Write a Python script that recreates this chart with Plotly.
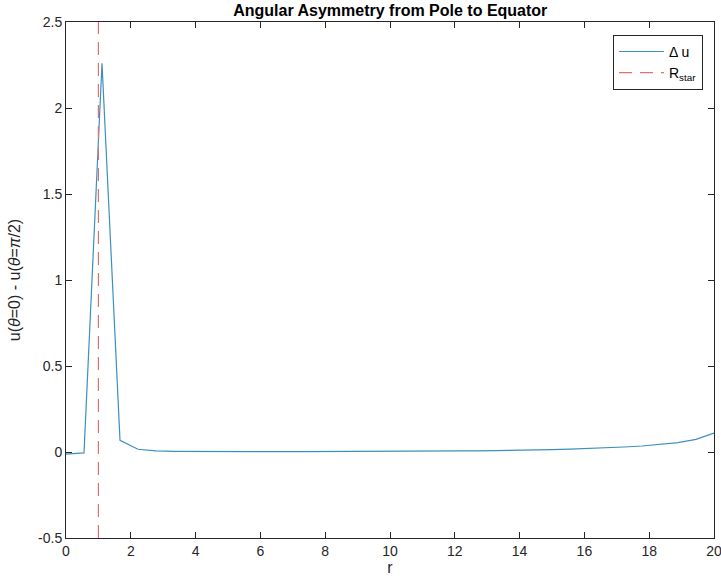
import plotly.graph_objects as go

r_vals = [0.000, 0.556, 1.111, 1.667, 2.222, 2.778, 3.333, 3.889, 4.444, 5.000,
          5.556, 6.111, 6.667, 7.222, 7.778, 8.333, 8.889, 9.444, 10.000, 10.556,
          11.111, 11.667, 12.222, 12.778, 13.333, 13.889, 14.444, 15.000, 15.556,
          16.111, 16.667, 17.222, 17.778, 18.333, 18.889, 19.444, 20.000]
delta_u = [-0.012, -0.005, 2.26, 0.068, 0.016, 0.006, 0.004, 0.003, 0.003, 0.002,
           0.002, 0.002, 0.002, 0.002, 0.002, 0.002, 0.002, 0.003, 0.003, 0.003,
           0.004, 0.005, 0.006, 0.007, 0.008, 0.010, 0.012, 0.014, 0.017,
           0.020, 0.024, 0.029, 0.035, 0.043, 0.054, 0.073, 0.110]
r_star = 1.0
y_range = [-0.5, 2.5]
x_range = [0, 20]
x_ticks = [0, 2, 4, 6, 8, 10, 12, 14, 16, 18, 20]
y_ticks = [-0.5, 0, 0.5, 1, 1.5, 2, 2.5]
y_tick_text = ["-0.5", "0", "0.5", "1", "1.5", "2", "2.5"]

font_family = "Liberation Sans, Arial, Helvetica, sans-serif"

fig = go.Figure()
fig.add_trace(go.Scatter(
    x=r_vals, y=delta_u, mode="lines", name="Δ u",
    line=dict(color="#3d8fbf", width=1.2),
))
fig.add_trace(go.Scatter(
    x=[r_star, r_star], y=y_range, mode="lines", name="R<sub>star</sub>",
    line=dict(color="#e07070", width=1.2, dash="13px,8px"),
))

axis_common = dict(
    showgrid=False, zeroline=False, showline=True, linecolor="#262626",
    linewidth=1, mirror="ticks", ticks="inside", ticklen=6, tickcolor="#262626",
    tickfont=dict(family=font_family, size=14, color="#262626"),
    automargin=False, ticklabeloverflow="allow",
)

fig.update_layout(
    width=721, height=582,
    margin=dict(l=66, r=7, t=22, b=44),
    paper_bgcolor="white", plot_bgcolor="white",
    title=dict(text="<b>Angular Asymmetry from Pole to Equator</b>",
               x=0.5413, xanchor="center", y=1 - 10 / 582, yanchor="middle",
               font=dict(family=font_family, size=16, color="black")),
    xaxis=dict(range=x_range, tickvals=x_ticks, **axis_common,
               title=dict(text="r", standoff=4,
                          font=dict(family=font_family, size=16, color="#262626"))),
    yaxis=dict(range=y_range, tickvals=y_ticks, ticktext=y_tick_text, **axis_common,
               title=dict(text="u(<i>θ</i>=0) - u(<i>θ</i>=<i>π</i>/2)", standoff=13,
                          font=dict(family=font_family, size=16, color="#262626"))),
    legend=dict(x=0.983, y=0.975, xanchor="right", yanchor="top",
                bgcolor="white", bordercolor="#262626", borderwidth=1,
                font=dict(family=font_family, size=14, color="black"),
                itemwidth=45, tracegroupgap=0),
    showlegend=True,
)

fig.write_html("out.html", config={"displayModeBar": False},
               post_script="document.body.style.margin='0';")
